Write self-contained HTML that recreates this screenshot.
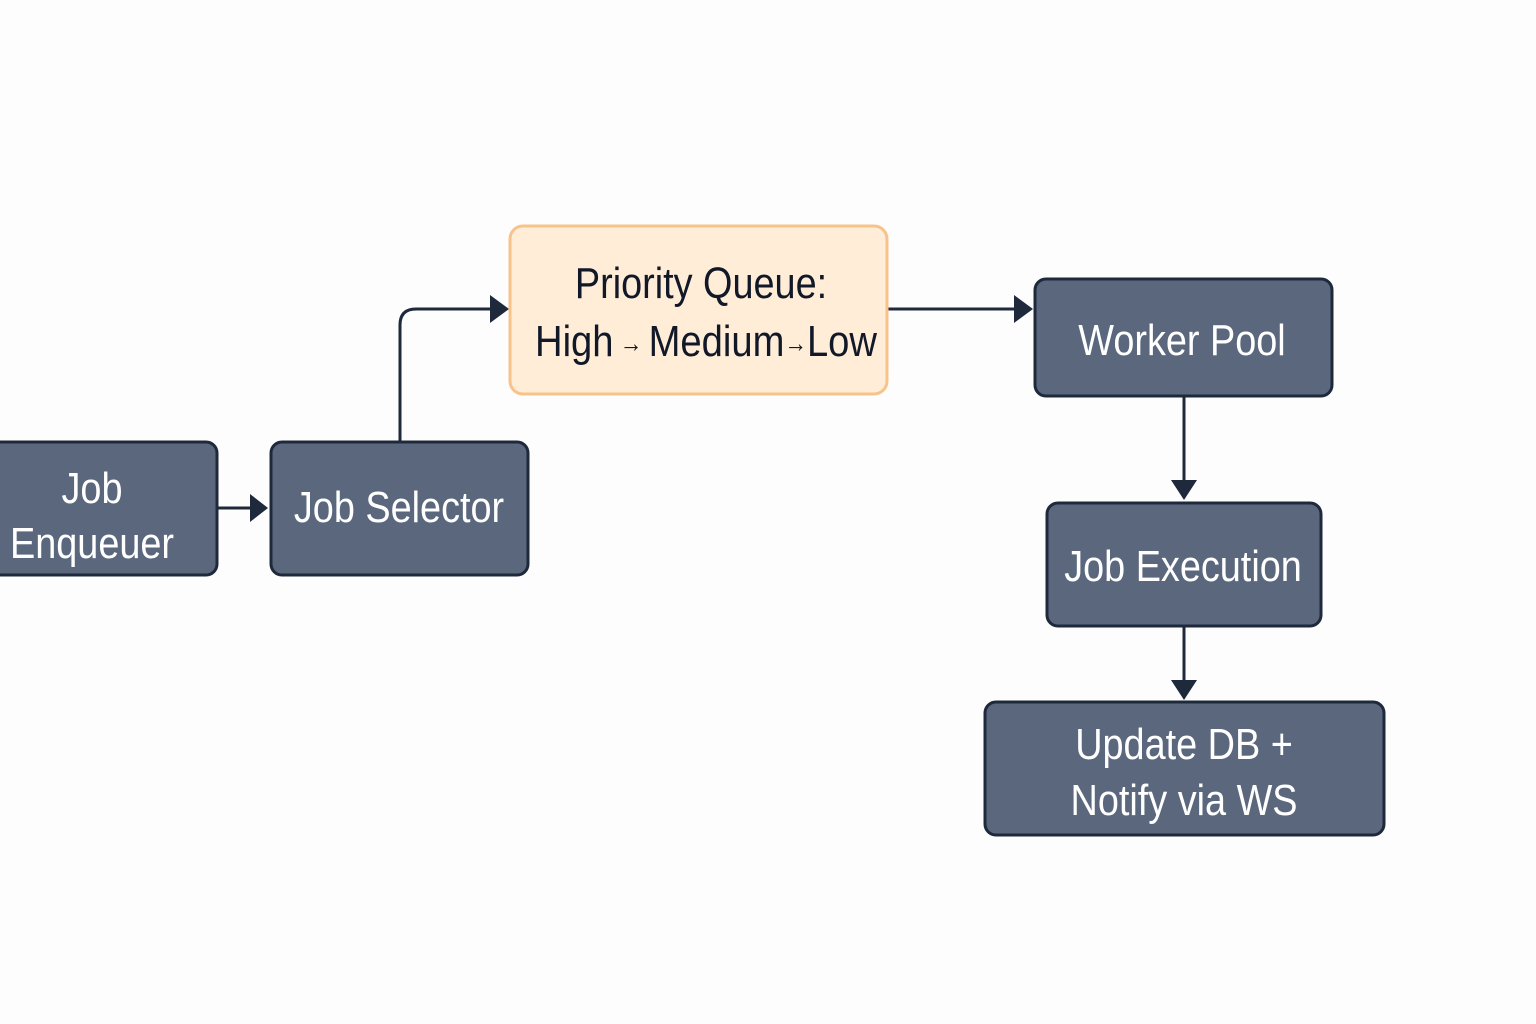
<!DOCTYPE html>
<html><head><meta charset="utf-8"><style>
html,body{margin:0;padding:0;background:#fdfdfe;}
svg{display:block}
text{font-family:"Liberation Sans",sans-serif;font-size:44px;text-anchor:middle}
.w{fill:#ffffff}
.d{fill:#111827}
</style></head><body>
<svg width="1536" height="1024" viewBox="0 0 1536 1024" xmlns="http://www.w3.org/2000/svg">
<g stroke="#1e293b" stroke-width="3" fill="none">
<line x1="218" y1="508" x2="266" y2="508"/>
<path d="M400,441 V325 Q400,309 416,309 H505"/>
<line x1="888" y1="309" x2="1031" y2="309"/>
<line x1="1184" y1="397" x2="1184" y2="498"/>
<line x1="1184" y1="627" x2="1184" y2="697"/>
</g>
<g fill="#1e293b">
<path d="M250,494 L268,508 L250,522 z"/>
<path d="M490,295 L509,309 L490,323 z"/>
<path d="M1014,295 L1033,309 L1014,323 z"/>
<path d="M1171,480 L1184,500 L1197,480 z"/>
<path d="M1171,680 L1184,700 L1197,680 z"/>
</g>
<g stroke="#1e293b" stroke-width="3" fill="#5a677d">
<rect x="-12" y="442" width="229" height="133" rx="11"/>
<rect x="271" y="442" width="257" height="133" rx="11"/>
<rect x="1035" y="279" width="297" height="117" rx="11"/>
<rect x="1047" y="503" width="274" height="123" rx="11"/>
<rect x="985" y="702" width="399" height="133" rx="11"/>
</g>
<rect x="510" y="226" width="377" height="168" rx="13" fill="#ffedd8" stroke="#f8c38a" stroke-width="3"/>
<g transform="translate(92,0) scale(0.86,1)"><text class="w" x="0" y="503">Job</text><text class="w" x="0" y="558">Enqueuer</text></g>
<g transform="translate(399,0) scale(0.86,1)"><text class="w" x="0" y="522">Job Selector</text></g>
<g transform="translate(701,0) scale(0.86,1)"><text class="d" x="0" y="298">Priority Queue:</text></g>
<text class="d" x="706" y="356" textLength="342" lengthAdjust="spacingAndGlyphs">High<tspan font-size="26" dy="-4"> → </tspan><tspan dy="4">Medium</tspan><tspan font-size="26" dy="-4">→</tspan><tspan dy="4">Low</tspan></text>
<g transform="translate(1182,0) scale(0.86,1)"><text class="w" x="0" y="355">Worker Pool</text></g>
<g transform="translate(1183,0) scale(0.86,1)"><text class="w" x="0" y="581">Job Execution</text></g>
<g transform="translate(1184,0) scale(0.86,1)"><text class="w" x="0" y="759">Update DB +</text><text class="w" x="0" y="815">Notify via WS</text></g>
</svg>
</body></html>
